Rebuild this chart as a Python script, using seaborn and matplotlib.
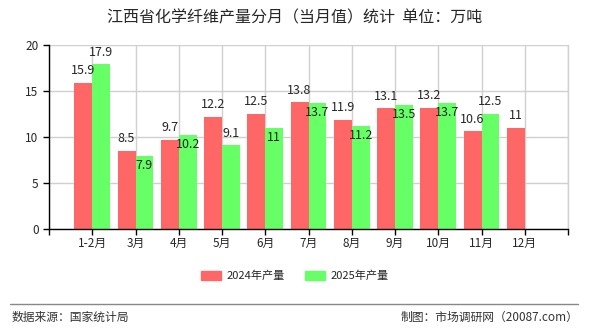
import matplotlib
matplotlib.use("Agg")
from matplotlib import pyplot as plt
from matplotlib.lines import Line2D
import numpy as np
import pandas as pd
import seaborn as sns

months = ["1-2月", "3月", "4月", "5月", "6月", "7月", "8月", "9月", "10月", "11月", "12月"]
prod_2024 = [15.9, 8.5, 9.7, 12.2, 12.5, 13.8, 11.9, 13.1, 13.2, 10.6, 11]
prod_2025 = [17.9, 7.9, 10.2, 9.1, 11, 13.7, 11.2, 13.5, 13.7, 12.5, np.nan]
series = ["2024年产量", "2025年产量"]
colors = ["#FF6666", "#66FF66"]

sns.set_style("white")
plt.rcParams["font.family"] = ["Noto Sans CJK SC", "DejaVu Sans"]

df = pd.DataFrame({
    "month": months * 2,
    "value": prod_2024 + prod_2025,
    "series": [series[0]] * len(months) + [series[1]] * len(months),
})

fig = plt.figure(figsize=(5.9, 3.3), dpi=100)
ax = fig.add_axes([49 / 590, 1 - 229 / 330, (568 - 49) / 590, (229 - 45) / 330])

sns.barplot(data=df, x="month", y="value", hue="series", order=months,
            hue_order=series, palette=colors, width=0.83, saturation=1,
            linewidth=0, legend=False, ax=ax, zorder=2)

ax.set_xlim(-1, 11)
ax.set_ylim(0, 20)
ax.set_yticks([0, 5, 10, 15, 20])
ax.set_xticks(range(-1, 12))
ax.set_xticklabels([""] + months + [""], fontsize=8.5)
ax.tick_params(axis="y", labelsize=8.5, length=4, width=1, color="black", direction="out", left=True)
ax.tick_params(axis="x", length=4, width=1, color="black", direction="out", bottom=True, pad=2)
ax.grid(True, color="#d0d0d0", linewidth=1, zorder=0)
ax.set_axisbelow(True)
ax.set_xlabel("")
ax.set_ylabel("")
ax.spines["top"].set_visible(False)
ax.spines["right"].set_color("#d0d0d0")
ax.spines["right"].set_linewidth(1)
for s in ["left", "bottom"]:
    ax.spines[s].set_color("black")
    ax.spines[s].set_linewidth(1)

# value labels
bw = 0.83 / 2
for i in range(len(months)):
    r = prod_2024[i]
    ax.text(i - bw / 2, r + 0.6, f"{r:g}", ha="center", va="bottom", fontsize=9)
    g = prod_2025[i]
    if not np.isnan(g):
        if abs(g - r) <= 1.5:
            ax.text(i + bw / 2, g - 0.3, f"{g:g}", ha="center", va="top", fontsize=9)
        else:
            ax.text(i + bw / 2, g + 0.6, f"{g:g}", ha="center", va="bottom", fontsize=9)

fig.text(0.5, 1 - 18 / 330, "江西省化学纤维产量分月（当月值）统计  单位：万吨",
         ha="center", va="center", fontsize=11.5)

handles = [plt.Rectangle((0, 0), 1, 1, color=c) for c in colors]
fig.legend(handles, series, loc="center", bbox_to_anchor=(0.5, 1 - 276 / 330),
           ncol=2, frameon=False, fontsize=8, handlelength=1.8, handleheight=0.9,
           handletextpad=0.5, columnspacing=1.8)

fig.add_artist(Line2D([10 / 590, 578 / 590], [1 - 304 / 330] * 2, color="#888888", linewidth=1))
fig.text(12 / 590, 1 - 317 / 330, "数据来源：国家统计局", ha="left", va="center", fontsize=8.5, color="#333333")
fig.text(578 / 590, 1 - 317 / 330, "制图：市场调研网（20087.com）", ha="right", va="center", fontsize=8.5, color="#333333")

fig.savefig("out.png", dpi=100)
